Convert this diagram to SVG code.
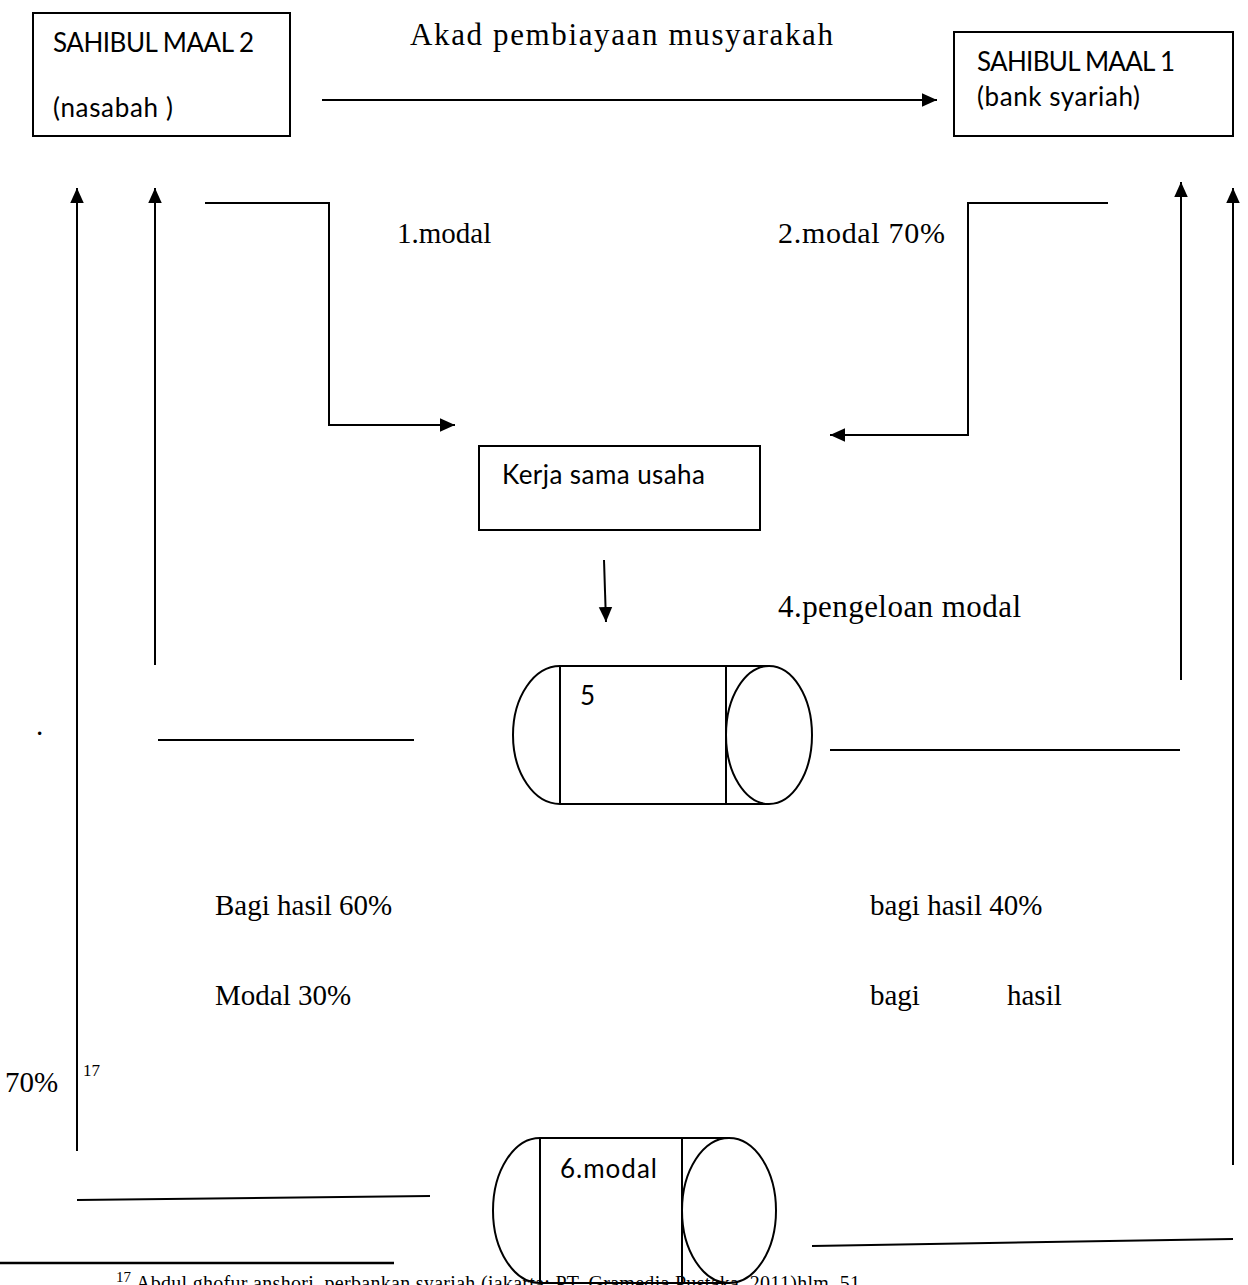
<svg xmlns="http://www.w3.org/2000/svg" width="1248" height="1285" viewBox="0 0 1248 1285">
<style>
.box{fill:#fff;stroke:#000;stroke-width:2}
.ln{fill:none;stroke:#000;stroke-width:2}
.sans{font-family:Lato,"Open Sans",sans-serif;font-size:26px;fill:#000}
.serif{font-family:"Liberation Serif","Times New Roman",serif;font-size:29px;fill:#000}
.sup{font-family:"Liberation Serif","Times New Roman",serif;font-size:17px;fill:#000}
.fn{font-family:"Liberation Serif","Times New Roman",serif;font-size:20px;fill:#000}
</style>
<defs>
<marker id="ah2" viewBox="0 0 10 10" refX="10" refY="5" markerWidth="15" markerHeight="15" markerUnits="userSpaceOnUse" orient="auto">
<path d="M0,0.5 L10,5 L0,9.5 Z" fill="#000"/>
</marker>
</defs>
<g id="node-sahibul2">
<rect class="box" x="33" y="13" width="257" height="123"/>
<text class="sans" x="53" y="52" textLength="201">SAHIBUL MAAL 2</text>
<text class="sans" x="53" y="117" textLength="120">(nasabah )</text>
</g>
<g id="node-sahibul1">
<rect class="box" x="954" y="32" width="279" height="104"/>
<text class="sans" x="977" y="71" textLength="198">SAHIBUL MAAL 1</text>
<text class="sans" x="977" y="106" textLength="163">(bank syariah)</text>
</g>
<g id="node-kerjasama">
<rect class="box" x="479" y="446" width="281" height="84"/>
<text class="sans" x="502" y="484" textLength="203">Kerja sama usaha</text>
</g>
<g id="node-5">
<path class="ln" d="M560,666 A47,69 0 0 0 560,804"/>
<line class="ln" x1="560" y1="666" x2="769" y2="666"/>
<line class="ln" x1="560" y1="804" x2="769" y2="804"/>
<line class="ln" x1="560" y1="666" x2="560" y2="804"/>
<line class="ln" x1="726" y1="666" x2="726" y2="804"/>
<ellipse class="ln" cx="769" cy="735" rx="43" ry="69"/>
<text class="sans" x="580" y="705">5</text>
</g>
<g id="node-6">
<path class="ln" d="M540,1138 A47,72.5 0 0 0 540,1283"/>
<line class="ln" x1="540" y1="1138" x2="729" y2="1138"/>
<line class="ln" x1="540" y1="1283" x2="729" y2="1283"/>
<line class="ln" x1="540" y1="1138" x2="540" y2="1283"/>
<line class="ln" x1="682" y1="1138" x2="682" y2="1283"/>
<ellipse class="ln" cx="729" cy="1210.5" rx="47" ry="72.5"/>
<text class="sans" x="560" y="1178" textLength="97">6.modal</text>
</g>
<g id="connectors">
<line class="ln" x1="322" y1="100" x2="937" y2="100" marker-end="url(#ah2)"/>
<polyline class="ln" points="205,203 329,203 329,425 455,425" marker-end="url(#ah2)"/>
<polyline class="ln" points="1108,203 968,203 968,435 830,435" marker-end="url(#ah2)"/>
<line class="ln" x1="604" y1="560" x2="606" y2="622" marker-end="url(#ah2)"/>
<line class="ln" x1="77" y1="1151" x2="77" y2="188" marker-end="url(#ah2)"/>
<line class="ln" x1="155" y1="665" x2="155" y2="188" marker-end="url(#ah2)"/>
<line class="ln" x1="1181" y1="680" x2="1181" y2="182" marker-end="url(#ah2)"/>
<line class="ln" x1="1233" y1="1165" x2="1233" y2="188" marker-end="url(#ah2)"/>
<line class="ln" x1="158" y1="740" x2="414" y2="740"/>
<line class="ln" x1="830" y1="750" x2="1180" y2="750"/>
<line class="ln" x1="77" y1="1200" x2="430" y2="1196"/>
<line class="ln" x1="812" y1="1246" x2="1233" y2="1239"/>
</g>
<g id="labels">
<text class="serif" x="410" y="45" style="font-size:31px" textLength="423">Akad pembiayaan musyarakah</text>
<text class="serif" x="397" y="243">1.modal</text>
<text class="serif" x="778" y="243" style="font-size:30px" textLength="167">2.modal 70%</text>
<text class="serif" x="778" y="617" style="font-size:31px" textLength="243">4.pengeloan modal</text>
<text class="serif" x="36" y="735">.</text>
<text class="serif" x="215" y="915">Bagi hasil 60%</text>
<text class="serif" x="870" y="915">bagi hasil 40%</text>
<text class="serif" x="215" y="1005">Modal 30%</text>
<text class="serif" x="870" y="1005">bagi</text>
<text class="serif" x="1007" y="1005">hasil</text>
<text class="serif" x="5" y="1092">70%</text>
<text class="sup" x="83" y="1076">17</text>
</g>
<g id="footnote">
<line x1="0" y1="1263" x2="394" y2="1263" stroke="#000" stroke-width="2.5"/>
<text class="sup" x="116" y="1282" style="font-size:15px">17</text>
<text class="fn" x="136" y="1290" textLength="724">Abdul ghofur anshori, perbankan syariah (jakarta: PT. Gramedia Pustaka, 2011)hlm. 51</text>
</g>
</svg>
